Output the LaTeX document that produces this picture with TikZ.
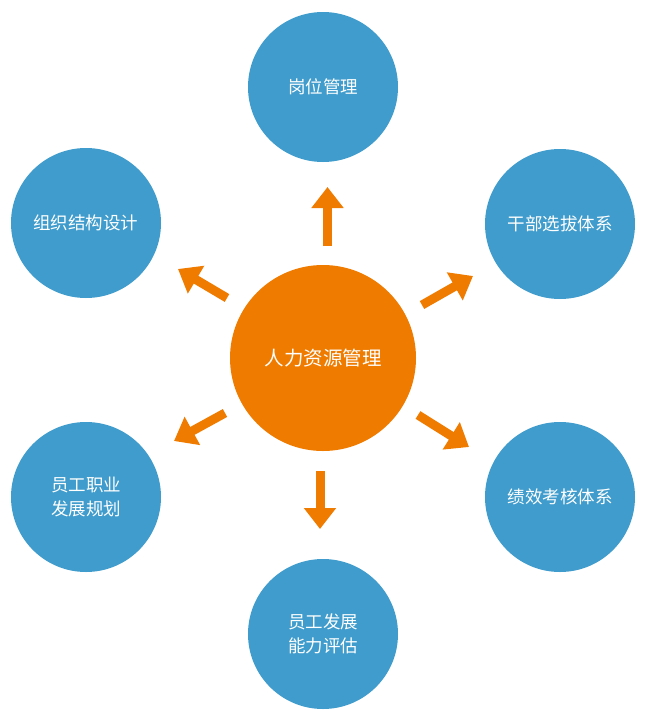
\documentclass[tikz,border=0pt]{standalone}
\usepackage{fontspec}
\setmainfont{Noto Sans CJK SC}
\usetikzlibrary{arrows.meta}
\definecolor{hrblue}{RGB}{63,156,204}
\definecolor{hrorange}{RGB}{239,124,0}
\tikzset{
  outer/.style={circle, fill=hrblue, minimum size=150pt, inner sep=0pt, text=white, font=\fontsize{17.5pt}{24pt}\selectfont, align=center},
  hub/.style={circle, fill=hrorange, minimum size=186pt, inner sep=0pt, text=white, font=\fontsize{19.5pt}{24pt}\selectfont, align=center},
  bigarrow/.style={draw=hrorange, line width=9pt, -{Triangle[width=31pt,length=21pt]}}
}
\begin{document}
\begin{tikzpicture}[x=1pt,y=-1pt]
\useasboundingbox (0,0) rectangle (646,710);
\node[hub] (c) at (323,358) {人力资源管理};
\node[outer] (t) at (323,87) {岗位管理};
\node[outer] (ur) at (560,224) {干部选拔体系};
\node[outer] (ul) at (86,223) {组织结构设计};
\node[outer] (ll) at (86,497) {员工职业\\发展规划};
\node[outer] (lr) at (560,497) {绩效考核体系};
\node[outer] (b) at (323,634) {员工发展\\能力评估};
\coordinate (a1s) at (327.5,246); \coordinate (a1e) at (327.5,187);
\coordinate (a2s) at (227,298); \coordinate (a2e) at (178,269);
\coordinate (a3s) at (422,305); \coordinate (a3e) at (473,276);
\coordinate (a4s) at (225,413); \coordinate (a4e) at (174,441);
\coordinate (a5s) at (418,415); \coordinate (a5e) at (469,447);
\coordinate (a6s) at (320,471); \coordinate (a6e) at (320,529);
\draw[bigarrow] (a1s) -- (a1e);
\draw[bigarrow] (a2s) -- (a2e);
\draw[bigarrow] (a3s) -- (a3e);
\draw[bigarrow] (a4s) -- (a4e);
\draw[bigarrow] (a5s) -- (a5e);
\draw[bigarrow] (a6s) -- (a6e);
\end{tikzpicture}
\end{document}
